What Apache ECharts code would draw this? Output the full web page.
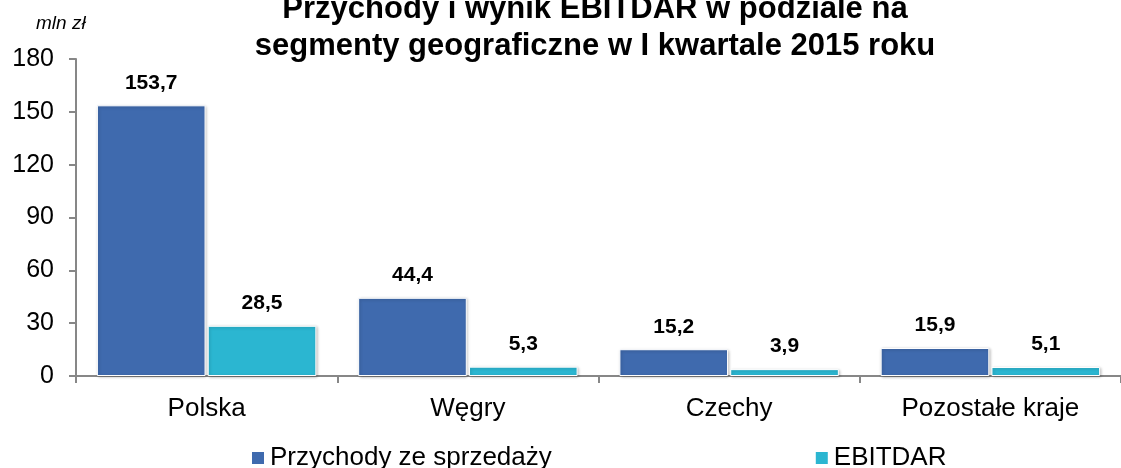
<!DOCTYPE html>
<html>
<head>
    <meta charset="utf-8">
    <title>Przychody i wynik EBITDAR</title>
    <script src="https://cdn.jsdelivr.net/npm/echarts@6/dist/echarts.min.js"></script>
    <style>
        html, body { margin: 0; padding: 0; background: #fff; }
        #main { width: 1121px; height: 468px; }
    </style>
</head>
<body>
<div id="main"></div>
<script>
    // dane
    var categories = ['Polska', 'Węgry', 'Czechy', 'Pozostałe kraje'];
    var przychody = [153.7, 44.4, 15.2, 15.9];
    var ebitdar = [28.5, 5.3, 3.9, 5.1];
    var seriesNames = ['Przychody ze sprzedaży', 'EBITDAR'];

    var font = 'Liberation Sans, Arial, sans-serif';

    function fmt(p) {
        return p.value.toFixed(1).replace('.', ',');
    }

    var labelStyle = {
        show: true,
        position: 'top',
        distance: 12,
        formatter: fmt,
        color: '#000',
        fontWeight: 'bold',
        fontSize: 21,
        fontFamily: font
    };

    var barShadow = {
        borderColor: '#fff',
        borderWidth: 1,
        shadowColor: 'rgba(0,0,0,0.25)',
        shadowBlur: 3,
        shadowOffsetX: 1,
        shadowOffsetY: 1
    };

    var chart = echarts.init(document.getElementById('main'));
    chart.setOption({
        animation: false,
        title: {
            text: 'Przychody i wynik EBITDAR w podziale na\nsegmenty geograficzne w I kwartale 2015 roku',
            left: 590,
            textAlign: 'center',
            top: -14,
            textStyle: {
                fontFamily: font,
                fontWeight: 'bold',
                fontSize: 31,
                lineHeight: 37,
                color: '#000'
            }
        },
        graphic: [{
            type: 'text',
            left: 36,
            top: 14,
            style: {
                text: 'mln zł',
                font: 'italic 19px ' + font,
                fill: '#000'
            }
        }],
        legend: {
            data: seriesNames,
            bottom: -8,
            left: 245,
            itemGap: 262,
            itemWidth: 14,
            itemHeight: 14,
            icon: 'rect',
            textStyle: { fontFamily: font, fontSize: 26, color: '#000' }
        },
        grid: {
            left: 76,
            top: 59,
            width: 1054,
            height: 317
        },
        xAxis: {
            type: 'category',
            data: categories,
            axisLine: { lineStyle: { color: '#878787', width: 2 } },
            axisTick: { show: true, length: 7, lineStyle: { color: '#878787', width: 2 } },
            axisLabel: { fontFamily: font, fontSize: 26, color: '#000', margin: 20 }
        },
        yAxis: {
            type: 'value',
            min: 0,
            max: 180,
            interval: 30,
            splitLine: { show: false },
            axisLine: { show: true, lineStyle: { color: '#878787', width: 2 } },
            axisTick: { show: true, length: 7, lineStyle: { color: '#878787', width: 2 } },
            axisLabel: { fontFamily: font, fontSize: 25, color: '#000', margin: 22 }
        },
        series: [
            {
                name: seriesNames[0],
                type: 'bar',
                data: przychody,
                barGap: '2%',
                barCategoryGap: '16%',
                itemStyle: Object.assign({ color: '#3F6AAE' }, barShadow),
                label: labelStyle
            },
            {
                name: seriesNames[1],
                type: 'bar',
                data: ebitdar,
                itemStyle: Object.assign({ color: '#2BB6D1' }, barShadow),
                label: labelStyle
            }
        ]
    });
</script>
</body>
</html>
